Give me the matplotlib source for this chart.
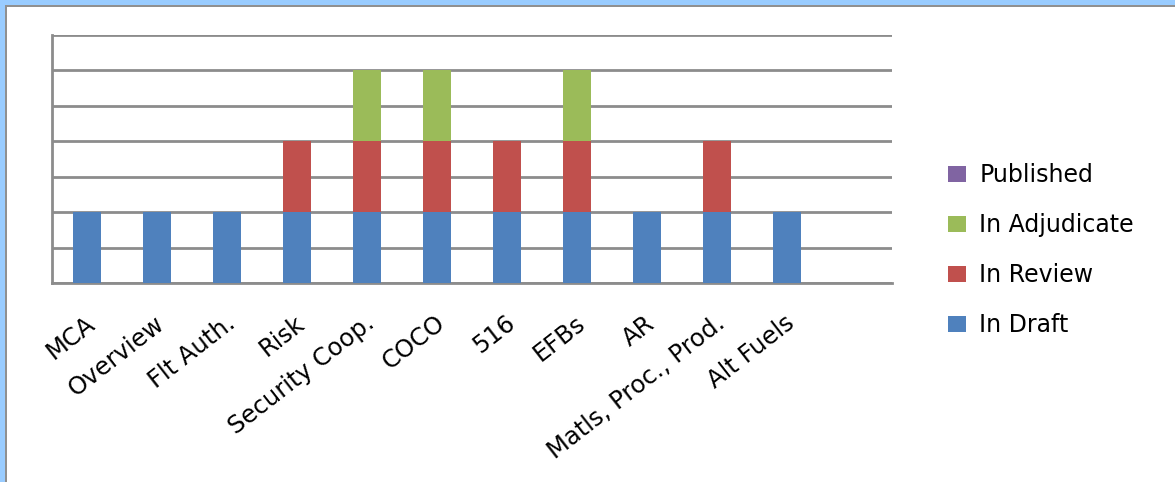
import numpy as np
import matplotlib.pyplot as plt
from matplotlib.patches import Rectangle
from matplotlib import transforms

categories = ['MCA', 'Overview', 'Flt Auth.', 'Risk', 'Security Coop.', 'COCO', '516',
              'EFBs', 'AR', 'Matls, Proc., Prod.', 'Alt Fuels']
in_draft = [1, 1, 1, 1, 1, 1, 1, 1, 1, 1, 1]
in_review = [0, 0, 0, 1, 1, 1, 1, 1, 0, 1, 0]
in_adjudicate = [0, 0, 0, 0, 1, 1, 0, 1, 0, 0, 0]
published = [0, 0, 0, 0, 0, 0, 0, 0, 0, 0, 0]

plt.rcParams['font.family'] = ['DejaVu Sans']

fig = plt.figure(figsize=(11.75, 4.82), dpi=100)
W, H = 1175, 482

# window frame (blue band + grey line, top and left)
fig.patches.append(Rectangle((0, 1 - 5 / H), 1, 5 / H, transform=fig.transFigure,
                             facecolor='#99CCFF', edgecolor='none', zorder=0))
fig.patches.append(Rectangle((0, 0), 5 / W, 1, transform=fig.transFigure,
                             facecolor='#99CCFF', edgecolor='none', zorder=0))
fig.patches.append(Rectangle((5 / W, 1 - 7 / H), 1, 2 / H, transform=fig.transFigure,
                             facecolor='#909090', edgecolor='none', zorder=1))
fig.patches.append(Rectangle((5 / W, 0), 2 / W, 1 - 5 / H, transform=fig.transFigure,
                             facecolor='#909090', edgecolor='none', zorder=1))

ax = fig.add_axes([52 / W, 1 - 283 / H, 840 / W, 248 / H])

x = np.arange(len(categories))
w = 0.39
bottom = np.zeros(len(categories))
series = [('In Draft', in_draft, '#4F81BD'),
          ('In Review', in_review, '#C0504D'),
          ('In Adjudicate', in_adjudicate, '#9BBB59'),
          ('Published', published, '#8064A2')]
handles = []
for name, vals, col in series:
    b = ax.bar(x, vals, w, bottom=bottom, color=col, edgecolor='none', label=name, zorder=3)
    handles.append(b)
    bottom += np.array(vals)

ax.set_xlim(-0.5, 11.5)
ax.set_ylim(0, 3.5)
ax.set_yticks(np.arange(0, 3.51, 0.5))
ax.yaxis.grid(True, color='#8C8C8C', linewidth=2)
ax.set_yticklabels([])
ax.tick_params(axis='y', length=0)
ax.tick_params(axis='x', length=0, pad=27)
for s in ['top', 'right']:
    ax.spines[s].set_visible(False)
for s in ['left', 'bottom']:
    ax.spines[s].set_color('#8C8C8C')
    ax.spines[s].set_linewidth(2)

ax.set_xticks(x)
ax.set_xticklabels(categories, rotation=38, ha='right', va='center',
                   rotation_mode='anchor', fontsize=17.5)
offset = transforms.ScaledTranslation(5 / 100, 0, fig.dpi_scale_trans)
for lab in ax.get_xticklabels():
    lab.set_transform(lab.get_transform() + offset)

leg = fig.legend(handles[::-1], [h.get_label() for h in handles[::-1]],
                 loc='upper left', bbox_to_anchor=(939 / W, 1 - 154 / H),
                 frameon=False, fontsize=17, handlelength=0.75, handleheight=0.65,
                 labelspacing=1.1, handletextpad=0.55, borderaxespad=0)

plt.savefig('out.png')
